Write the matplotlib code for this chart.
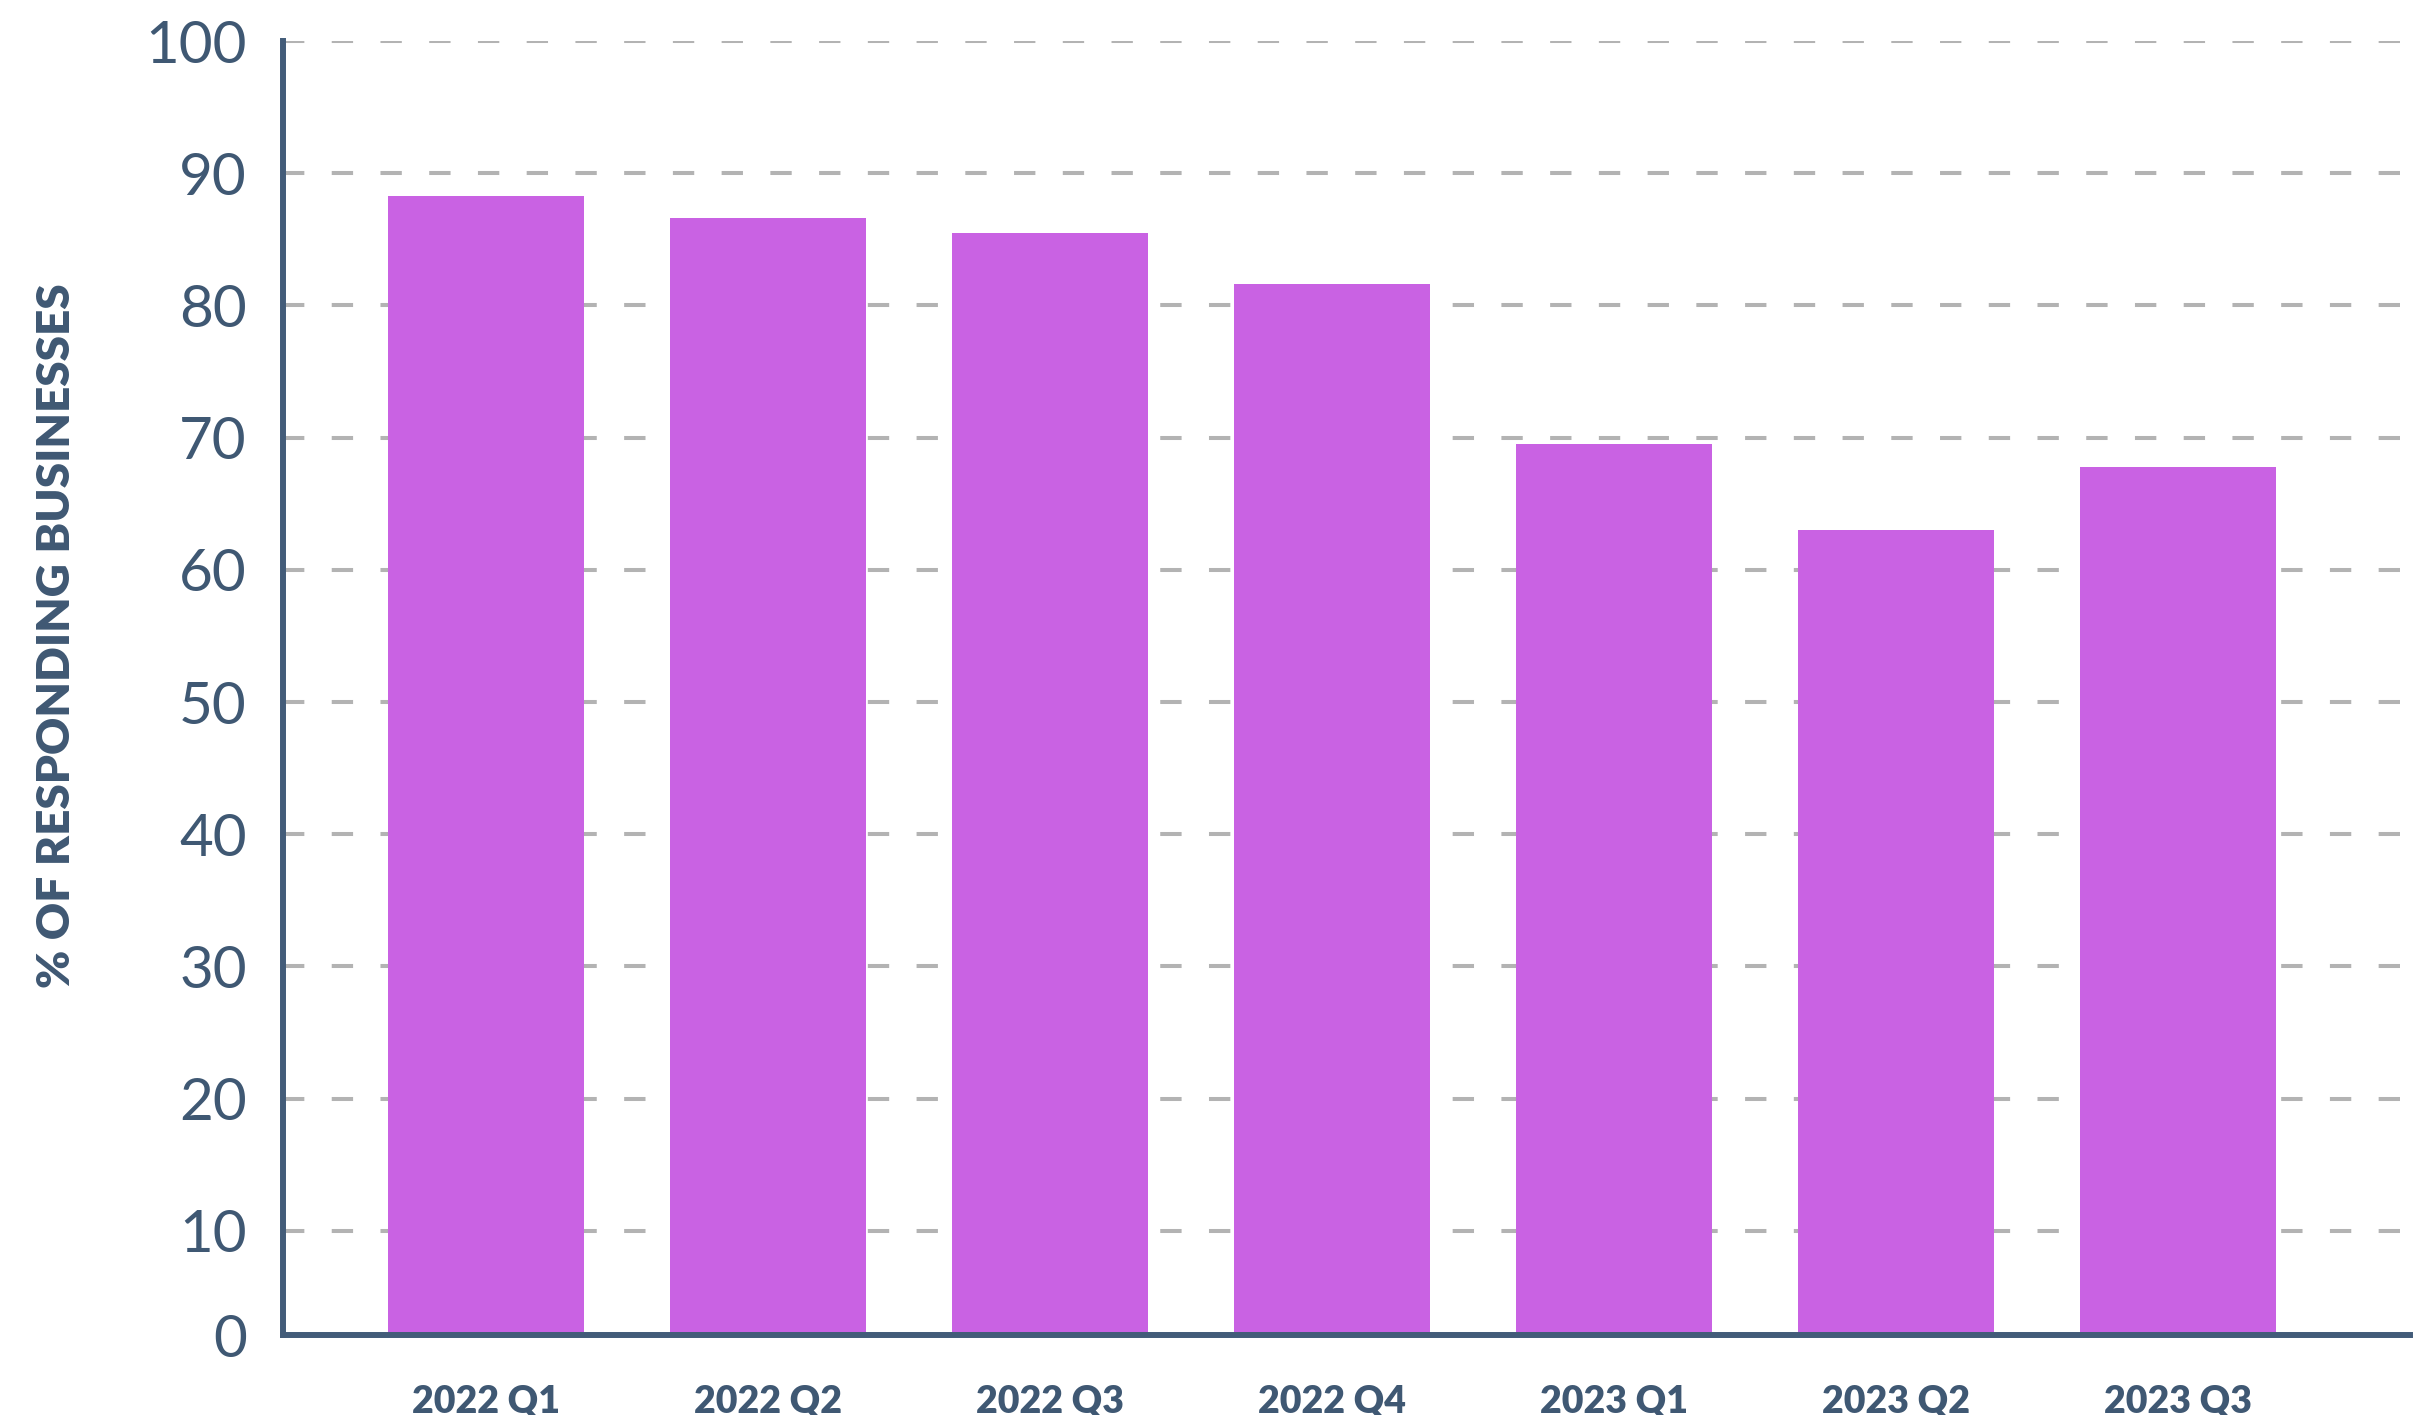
import matplotlib.pyplot as plt
import numpy as np

# Data
quarters = ["2022 Q1", "2022 Q2", "2022 Q3", "2022 Q4", "2023 Q1", "2023 Q2", "2023 Q3"]
share = [88.3, 86.6, 85.5, 81.6, 69.5, 63.0, 67.8]
y_ticks = [10, 20, 30, 40, 50, 60, 70, 80, 90, 100]

# Styling
bar_color = "#C962E3"
ink = "#3F5873"
grid_color = "#B3B3B3"

fig = plt.figure(figsize=(24.14, 14.15), dpi=100)
ax = fig.add_axes([0.1172, 0.0565, 0.881, 0.9145])

x = np.arange(len(quarters))
ax.bar(x, share, width=0.695, color=bar_color, zorder=3)

# Axis base sits a little above zero, as in the original artwork
y_base = 2.12
ax.set_ylim(y_base, 100)
ax.set_xlim(-0.72, len(quarters) - 1 + 0.82)

ax.set_yticks([y_base] + y_ticks)
ax.set_yticklabels(["0"] + [str(v) for v in y_ticks],
                   fontsize=42, color=ink, family="Lato", fontweight="normal")
ax.set_xticks(x)
ax.set_xticklabels(quarters, fontsize=27, color=ink, family="Lato", fontweight="heavy")
ax.tick_params(axis="y", length=0, pad=26)
ax.tick_params(axis="x", length=0, pad=36)

for v in y_ticks:
    ax.axhline(v, color=grid_color, lw=2.9, dashes=(5.3, 6.8), zorder=1)

for side in ["top", "right"]:
    ax.spines[side].set_visible(False)
for side in ["left", "bottom"]:
    ax.spines[side].set_color("#435C79")
    ax.spines[side].set_linewidth(4.3)
    ax.spines[side].set_zorder(4)

fig.text(0.0236, 0.551, "% OF RESPONDING BUSINESSES", rotation=90,
         ha="center", va="center", fontsize=33, color=ink,
         family="Lato", fontweight="heavy")

plt.savefig("out.png", dpi=100)
plt.close()
